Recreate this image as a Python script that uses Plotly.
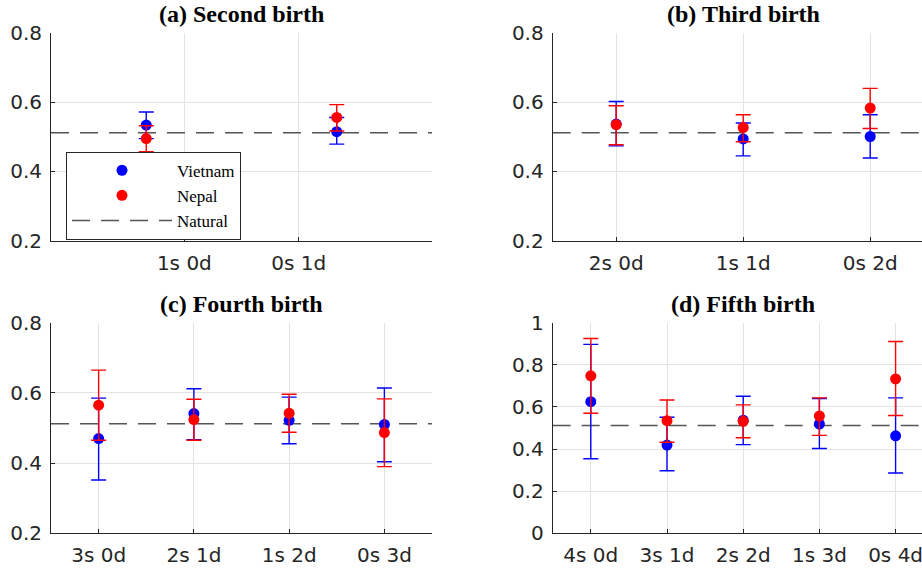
import plotly.graph_objects as go

# ---------------- data ----------------
NATURAL = 0.512

labels_a = ["1s 0d", "0s 1d"]
vn_a = [0.534, 0.515]
vn_a_hi = [0.572, 0.556]
vn_a_lo = [0.495, 0.479]
np_a = [0.495, 0.556]
np_a_hi = [0.532, 0.593]
np_a_lo = [0.457, 0.517]

labels_b = ["2s 0d", "1s 1d", "0s 2d"]
vn_b = [0.537, 0.494, 0.501]
vn_b_hi = [0.602, 0.540, 0.564]
vn_b_lo = [0.474, 0.445, 0.439]
np_b = [0.535, 0.527, 0.583]
np_b_hi = [0.590, 0.564, 0.640]
np_b_lo = [0.477, 0.486, 0.524]

labels_c = ["3s 0d", "2s 1d", "1s 2d", "0s 3d"]
vn_c = [0.470, 0.541, 0.522, 0.510]
vn_c_hi = [0.585, 0.612, 0.588, 0.614]
vn_c_lo = [0.352, 0.467, 0.455, 0.404]
np_c = [0.565, 0.524, 0.542, 0.487]
np_c_hi = [0.665, 0.582, 0.596, 0.583]
np_c_lo = [0.465, 0.465, 0.488, 0.390]

labels_d = ["4s 0d", "3s 1d", "2s 2d", "1s 3d", "0s 4d"]
vn_d = [0.625, 0.419, 0.537, 0.519, 0.463]
vn_d_hi = [0.897, 0.551, 0.651, 0.640, 0.643]
vn_d_lo = [0.354, 0.297, 0.421, 0.403, 0.286]
np_d = [0.748, 0.535, 0.532, 0.557, 0.733]
np_d_hi = [0.925, 0.633, 0.610, 0.643, 0.911]
np_d_lo = [0.570, 0.432, 0.454, 0.465, 0.559]

titles = ["(a) Second birth", "(b) Third birth", "(c) Fourth birth", "(d) Fifth birth"]

# ---------------- layout geometry ----------------
W, H = 922, 571
AX_W = 381.0
LEFT_X0 = 51.0
RIGHT_X0 = 552.7
TOP_Y0, TOP_Y1 = 33.0, 240.7
BOT_Y0, BOT_Y1 = 322.7, 533.3

BLUE = "#0000ff"
RED = "#ff0000"
TXT = "#262626"
GRID = "#e3e3e3"
TICK_FONT = dict(family="DejaVu Sans", size=20, color=TXT)

panels = [
    dict(labels=labels_a, vn=vn_a, vh=vn_a_hi, vl=vn_a_lo, npv=np_a, nh=np_a_hi, nl=np_a_lo,
         x0=LEFT_X0, y0=TOP_Y0, y1=TOP_Y1, yr=[0.2, 0.8], yt=[0.2, 0.4, 0.6, 0.8], tickpos=[1.2, 1.8]),
    dict(labels=labels_b, vn=vn_b, vh=vn_b_hi, vl=vn_b_lo, npv=np_b, nh=np_b_hi, nl=np_b_lo,
         x0=RIGHT_X0, y0=TOP_Y0, y1=TOP_Y1, yr=[0.2, 0.8], yt=[0.2, 0.4, 0.6, 0.8], tickpos=None),
    dict(labels=labels_c, vn=vn_c, vh=vn_c_hi, vl=vn_c_lo, npv=np_c, nh=np_c_hi, nl=np_c_lo,
         x0=LEFT_X0, y0=BOT_Y0, y1=BOT_Y1, yr=[0.2, 0.8], yt=[0.2, 0.4, 0.6, 0.8], tickpos=None),
    dict(labels=labels_d, vn=vn_d, vh=vn_d_hi, vl=vn_d_lo, npv=np_d, nh=np_d_hi, nl=np_d_lo,
         x0=RIGHT_X0, y0=BOT_Y0, y1=BOT_Y1, yr=[0, 1], yt=[0, 0.2, 0.4, 0.6, 0.8, 1.0], tickpos=None),
]

fig = go.Figure()
annotations = []
layout_axes = {}

for i, p in enumerate(panels):
    k = "" if i == 0 else str(i + 1)
    xa, ya = "x" + k, "y" + k
    n = len(p["labels"])
    xs = list(range(1, n + 1))
    full_lo, full_hi = 0.5, n + 0.5
    x_end_px = min(p["x0"] + AX_W, W)
    rng_hi = full_lo + (x_end_px - p["x0"]) / AX_W * (full_hi - full_lo)
    dom_x = [p["x0"] / W, x_end_px / W]
    dom_y = [1 - p["y1"] / H, 1 - p["y0"] / H]

    # natural ratio line
    fig.add_trace(go.Scatter(
        x=[full_lo, rng_hi], y=[NATURAL, NATURAL], mode="lines",
        line=dict(color="#555555", width=1.5, dash="18px,11px"),
        name="Natural", showlegend=(i == 0), legendrank=3, xaxis=xa, yaxis=ya,
        hoverinfo="skip"))
    # Vietnam
    fig.add_trace(go.Scatter(
        x=xs, y=p["vn"], mode="markers",
        marker=dict(color=BLUE, size=11),
        error_y=dict(type="data", symmetric=False,
                     array=[h - v for h, v in zip(p["vh"], p["vn"])],
                     arrayminus=[v - l for v, l in zip(p["vn"], p["vl"])],
                     color=BLUE, thickness=1.4, width=7.5),
        name="Vietnam", showlegend=(i == 0), legendrank=1, xaxis=xa, yaxis=ya))
    # Nepal
    fig.add_trace(go.Scatter(
        x=xs, y=p["npv"], mode="markers",
        marker=dict(color=RED, size=11),
        error_y=dict(type="data", symmetric=False,
                     array=[h - v for h, v in zip(p["nh"], p["npv"])],
                     arrayminus=[v - l for v, l in zip(p["npv"], p["nl"])],
                     color=RED, thickness=1.4, width=7.5),
        name="Nepal", showlegend=(i == 0), legendrank=2, xaxis=xa, yaxis=ya))

    tickvals = p["tickpos"] if p["tickpos"] else xs
    layout_axes["xaxis" + k] = dict(
        domain=dom_x, range=[full_lo, rng_hi], anchor=ya, automargin=False,
        tickmode="array", tickvals=tickvals, ticktext=p["labels"],
        ticklabeloverflow="allow",
        showline=True, linecolor=TXT, linewidth=1,
        showgrid=True, gridcolor=GRID, gridwidth=1, zeroline=False,
        ticks="inside", ticklen=4, tickcolor=TXT, tickfont=TICK_FONT,
        ticklabelstandoff=4)
    layout_axes["yaxis" + k] = dict(
        domain=dom_y, range=p["yr"], anchor=xa, automargin=False,
        tickmode="array", tickvals=p["yt"], ticklabeloverflow="allow",
        showline=True, linecolor=TXT, linewidth=1,
        showgrid=True, gridcolor=GRID, gridwidth=1, zeroline=False,
        ticks="inside", ticklen=4, tickcolor=TXT, tickfont=TICK_FONT,
        ticklabelstandoff=4)

    annotations.append(dict(
        text="<b>" + titles[i] + "</b>", xref="paper", yref="paper",
        x=(p["x0"] + AX_W / 2) / W, y=dom_y[1], xanchor="center", yanchor="bottom",
        yshift=4, showarrow=False,
        font=dict(family="Liberation Serif", size=24, color="black")))

fig.update_layout(
    width=W, height=H, margin=dict(l=0, r=0, t=0, b=0, autoexpand=False),
    paper_bgcolor="white", plot_bgcolor="white",
    annotations=annotations,
    legend=dict(x=66 / W, y=1 - 151.7 / H, xanchor="left", yanchor="top",
                bgcolor="white", bordercolor=TXT, borderwidth=1,
                font=dict(family="Liberation Serif", size=17, color="black"),
                itemwidth=100, tracegroupgap=0),
    showlegend=True,
    **layout_axes)

fig.write_html("out.html")
